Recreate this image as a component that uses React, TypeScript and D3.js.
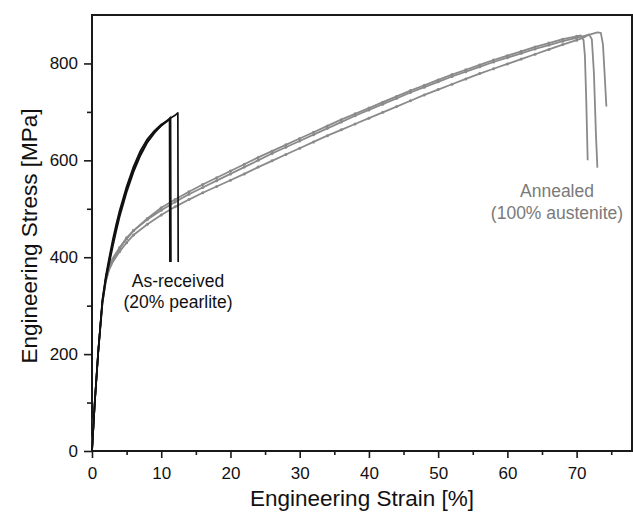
import React, { useEffect, useRef } from "react";
import { select, scaleLinear, axisLeft, axisBottom, line } from "d3";

const width = 633;
const height = 513;
const marginLeft = 92;
const marginTop = 15;
const plotRight = 632;
const plotBottom = 451;

// shared strain grid [%] for the annealed specimens
const annealedStrain = [
  0, 0.4, 0.9, 1.5, 2, 2.5, 3, 4, 5, 6, 8, 10, 12, 14, 16, 18, 20, 22, 24, 26,
  28, 30, 32, 34, 36, 38, 40, 42, 44, 46, 48, 50, 52, 54, 56, 58, 60, 62, 64,
  66, 68, 70,
];
// stress [MPa]
const annealed1 = [
  0, 100, 205, 305, 352, 378, 394, 418, 438, 455, 480, 502, 519, 535, 550, 564,
  578, 592, 606, 619, 632, 645, 658, 671, 684, 696, 708, 720, 732, 744, 755,
  766, 777, 787, 797, 807, 816, 825, 834, 842, 850, 856,
];
const annealed2 = [
  0, 100, 205, 305, 355, 382, 398, 420, 440, 455, 478, 497, 514, 530, 544, 558,
  572, 586, 600, 614, 627, 640, 653, 666, 679, 692, 704, 716, 728, 740, 751,
  762, 773, 783, 793, 803, 812, 821, 830, 838, 846, 853,
];
const annealed3 = [
  0, 100, 205, 305, 350, 375, 390, 412, 430, 446, 468, 487, 504, 519, 533, 546,
  559, 572, 586, 599, 612, 625, 638, 651, 663, 675, 687, 699, 711, 723, 735,
  746, 757, 768, 779, 789, 799, 809, 819, 829, 839, 848,
];
// necking and fracture
const annealed1TailStrain = [70.6, 71.0, 71.2, 71.4, 71.6];
const annealed1TailStress = [858, 848, 815, 720, 600];
const annealed2TailStrain = [72, 73, 73.5, 73.8, 74.0, 74.3];
const annealed2TailStress = [860, 864, 863, 840, 790, 711];
const annealed3TailStrain = [71, 71.8, 72.2, 72.5, 72.8, 73.0];
const annealed3TailStress = [853, 860, 850, 780, 650, 585];

// as-received specimens
const receivedStrain = [0, 0.4, 0.9, 1.5, 2, 2.5, 3, 3.5, 4, 5, 6, 7, 8, 9, 10, 11];
const received1 = [0, 100, 205, 312, 362, 400, 436, 468, 497, 546, 587, 620, 644, 661, 674, 683];
const received2 = [0, 100, 205, 310, 358, 394, 429, 461, 490, 540, 581, 614, 639, 658, 671, 682];
const received3 = [0, 100, 205, 306, 353, 388, 422, 454, 484, 534, 576, 610, 637, 656, 672, 684];
const received1TailStrain = [11.2, 11.25];
const received1TailStress = [685, 390];
const received2TailStrain = [11.35, 11.4];
const received2TailStress = [689, 390];
const received3TailStrain = [12, 12.4, 12.45];
const received3TailStress = [693, 698, 390];

const yMajor = [0, 200, 400, 600, 800];
const yMinor = [100, 300, 500, 700];
const xMajor = [0, 10, 20, 30, 40, 50, 60, 70];
const xMinor = [5, 15, 25, 35, 45, 55, 65, 75];

const font = "'Liberation Sans', Arial, sans-serif";
const gray = "#8a8a8a";
const dark = "#1a1a1a";

type P = [number, number];
const pts = (xs: number[], ys: number[], txs: number[], tys: number[]): P[] =>
  xs.map((x, i) => [x, ys[i]] as P).concat(txs.map((x, i) => [x, tys[i]] as P));

const App = () => {
  const svgRef = useRef<SVGSVGElement>(null);

  useEffect(() => {
    const svg = select(svgRef.current);
    svg.selectAll("*").remove();

    const xScale = scaleLinear().domain([0, 78]).range([marginLeft, plotRight]);
    const yScale = scaleLinear().domain([0, 900]).range([plotBottom, marginTop]);

    const annealed = [
      pts(annealedStrain, annealed1, annealed1TailStrain, annealed1TailStress),
      pts(annealedStrain, annealed2, annealed2TailStrain, annealed2TailStress),
      pts(annealedStrain, annealed3, annealed3TailStrain, annealed3TailStress),
    ];
    const received = [
      pts(receivedStrain, received1, received1TailStrain, received1TailStress),
      pts(receivedStrain, received2, received2TailStrain, received2TailStress),
      pts(receivedStrain, received3, received3TailStrain, received3TailStress),
    ];

    const curve = line<P>()
      .x((d) => xScale(d[0]))
      .y((d) => yScale(d[1]));

    // axes
    const styleAxis = (g: any) => {
      g.select(".domain").remove();
      g.selectAll("line").attr("stroke", dark).attr("stroke-width", 1.6);
      g.selectAll("text")
        .attr("fill", "#111")
        .style("font-family", font)
        .style("font-size", "17px");
    };

    svg
      .append("g")
      .attr("transform", `translate(${marginLeft},0)`)
      .call(axisLeft(yScale).tickValues(yMinor).tickSize(5).tickFormat(() => ""))
      .call(styleAxis);
    svg
      .append("g")
      .attr("transform", `translate(${marginLeft},0)`)
      .call(axisLeft(yScale).tickValues(yMajor).tickSize(8).tickPadding(6))
      .call(styleAxis);
    svg
      .append("g")
      .attr("transform", `translate(0,${plotBottom})`)
      .call(axisBottom(xScale).tickValues(xMinor).tickSize(4).tickFormat(() => ""))
      .call(styleAxis);
    svg
      .append("g")
      .attr("transform", `translate(0,${plotBottom})`)
      .call(axisBottom(xScale).tickValues(xMajor).tickSize(7).tickPadding(9))
      .call(styleAxis);

    // frame
    svg
      .append("rect")
      .attr("x", marginLeft)
      .attr("y", marginTop)
      .attr("width", plotRight - marginLeft)
      .attr("height", plotBottom - marginTop)
      .attr("fill", "none")
      .attr("stroke", dark)
      .attr("stroke-width", 2);

    // annealed curves
    annealed.forEach((d) => {
      svg
        .append("path")
        .datum(d)
        .attr("fill", "none")
        .attr("stroke", gray)
        .attr("stroke-width", 1.8)
        .attr("stroke-linejoin", "round")
        .attr("d", curve);
      svg
        .append("g")
        .selectAll("circle")
        .data(d.filter((p) => p[0] >= 4 && p[0] <= 70))
        .join("circle")
        .attr("cx", (p) => xScale(p[0]))
        .attr("cy", (p) => yScale(p[1]))
        .attr("r", 1.5)
        .attr("fill", gray);
    });

    // as-received curves
    received.forEach((d) => {
      svg
        .append("path")
        .datum(d)
        .attr("fill", "none")
        .attr("stroke", "#111")
        .attr("stroke-width", 1.7)
        .attr("stroke-linejoin", "round")
        .attr("d", curve);
    });

    // labels
    const label = (x: number, y: number, t: string, c: string, size = 17.5) =>
      svg
        .append("text")
        .attr("x", x)
        .attr("y", y)
        .attr("text-anchor", "middle")
        .attr("fill", c)
        .style("font-family", font)
        .style("font-size", `${size}px`)
        .text(t);

    label(178, 287, "As-received", "#111");
    label(178, 308, "(20% pearlite)", "#111");
    label(557, 197, "Annealed", "#7a7a7a");
    label(557, 219, "(100% austenite)", "#7a7a7a");

    label(362, 506, "Engineering Strain [%]", "#111", 22.5);
    svg
      .append("text")
      .attr("transform", `translate(37,${(marginTop + plotBottom) / 2 + 3}) rotate(-90)`)
      .attr("text-anchor", "middle")
      .attr("fill", "#111")
      .style("font-family", font)
      .style("font-size", "22.5px")
      .text("Engineering Stress [MPa]");
  }, []);

  return (
    <svg
      ref={svgRef}
      width={width}
      height={height}
      style={{ position: "absolute", left: 0, top: 0, background: "#fff" }}
    />
  );
};

export default App;
